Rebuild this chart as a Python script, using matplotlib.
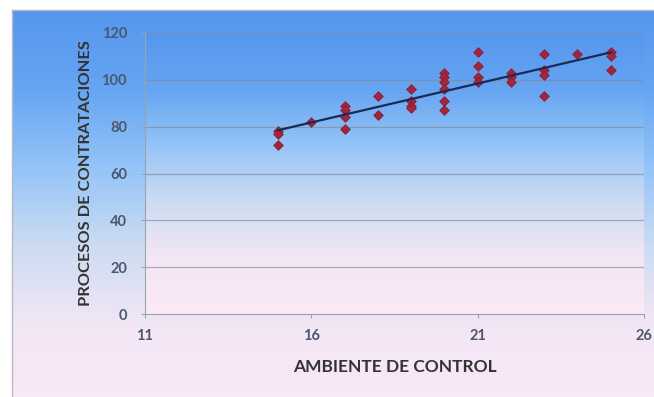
import numpy as np
import matplotlib.pyplot as plt
from matplotlib.colors import LinearSegmentedColormap

# ambiente de control (x) vs procesos de contrataciones (y)
ambiente = [15, 15, 15, 16, 17, 17, 17, 17, 18, 18, 19, 19, 19, 19,
            20, 20, 20, 20, 20, 20, 21, 21, 21, 21, 22, 22, 22,
            23, 23, 23, 23, 24, 25, 25, 25]
procesos = [78, 77, 72, 82, 89, 87, 84, 79, 93, 85, 96, 91, 89, 88,
            103, 101, 99, 96, 91, 87, 112, 106, 101, 99, 103, 101, 99,
            111, 104, 102, 93, 111, 112, 110, 104]

xticks = [11, 16, 21, 26]
yticks = [0, 20, 40, 60, 80, 100, 120]

plt.rcParams['font.family'] = ['Lato', 'DejaVu Sans']

fig = plt.figure(figsize=(6.54, 3.97), dpi=100)
fig.patch.set_facecolor('white')

grad = LinearSegmentedColormap.from_list(
    'fondo', ['#fbe9f6', '#f3e6f5', '#cddcf2', '#95c4f7', '#66a5f2', '#5597ee'])
g = np.linspace(0, 1, 256).reshape(-1, 1)

# chart area background, runs off the right and bottom edges
bg = fig.add_axes([12 / 654, -0.02, 1.0, 1.02 - 10 / 397])
bg.imshow(g, cmap=grad, origin='lower', aspect='auto', extent=[0, 1, 0, 1])
bg.set_xlim(0, 1)
bg.set_ylim(0, 1)
bg.set_xticks([])
bg.set_yticks([])
for s in bg.spines.values():
    s.set_color('#b8b8c0')
    s.set_linewidth(1)
bg.set_zorder(-5)

ax = fig.add_axes([145 / 654, 83 / 397, 499 / 654, 281 / 397])
ax.imshow(g, cmap=grad, origin='lower', aspect='auto',
          extent=[0, 1, 0, 1], transform=ax.transAxes, zorder=0)
ax.set_autoscale_on(False)
ax.set_xlim(11, 26)
ax.set_ylim(0, 120)

for yv in yticks[1:]:
    ax.axhline(yv, color='#7f8a9a', lw=0.9, alpha=0.65, zorder=1)

ax.scatter(ambiente, procesos, marker='D', s=24, color='#a1263d',
           edgecolors='#8a1e33', linewidths=0.6, zorder=3)

# linear trend over the observed range
m, b = np.polyfit(ambiente, procesos, 1)
xs = np.array([min(ambiente), max(ambiente)])
ax.plot(xs, m * xs + b, color='#1b2a55', lw=1.6, zorder=4)

ax.set_xticks(xticks)
ax.set_yticks(yticks)
ax.tick_params(axis='both', colors='#9aa3b0', labelcolor='#4a586d',
               labelsize=10.5, length=3)
ax.tick_params(axis='x', pad=8)
ax.tick_params(axis='y', pad=10)
for lbl in ax.get_xticklabels() + ax.get_yticklabels():
    lbl.set_fontweight('bold')
for side in ['top', 'right']:
    ax.spines[side].set_visible(False)
for side in ['left', 'bottom']:
    ax.spines[side].set_color('#9aa3b0')

ax.set_xlabel('AMBIENTE DE CONTROL', fontsize=12.5, fontweight='bold',
              color='#333333', labelpad=11)
ax.set_ylabel('PROCESOS DE CONTRATACIONES', fontsize=11.8, fontweight='bold',
              color='#333333', labelpad=6)

fig.savefig('out.png', dpi=100)
